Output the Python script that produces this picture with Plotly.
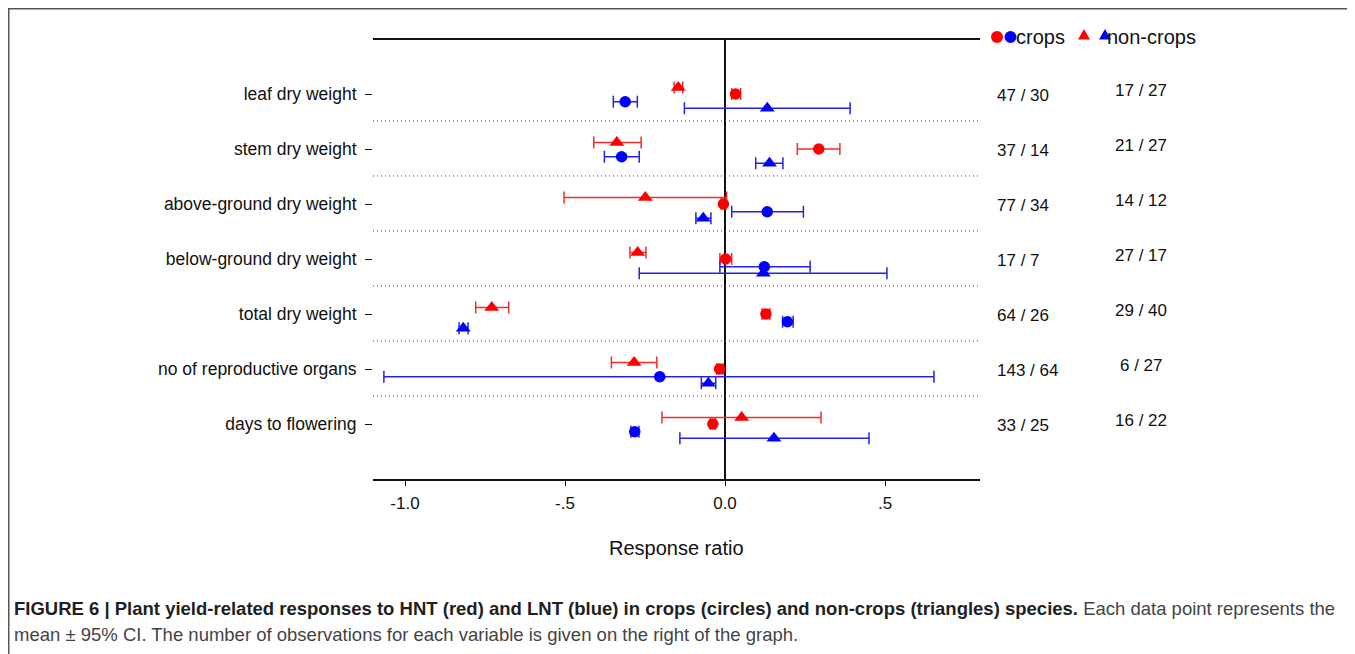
import plotly.graph_objects as go

# ---------------- data ----------------
categories = ["leaf dry weight", "stem dry weight", "above-ground dry weight",
              "below-ground dry weight", "total dry weight",
              "no of reproductive organs", "days to flowering"]

# HNT (red), crops (circles)
hnt_crop_mean = [0.033, 0.293, -0.005, 0.002, 0.128, -0.017, -0.038]
hnt_crop_lo   = [0.021, 0.226, -0.012, -0.016, 0.116, -0.026, -0.046]
hnt_crop_hi   = [0.049, 0.359, 0.003, 0.021, 0.140, -0.006, -0.030]

# HNT (red), non-crops (triangles)
hnt_non_mean = [-0.146, -0.338, -0.249, -0.273, -0.729, -0.284, 0.052]
hnt_non_lo   = [-0.159, -0.410, -0.503, -0.297, -0.779, -0.355, -0.197]
hnt_non_hi   = [-0.132, -0.262, 0.005, -0.247, -0.676, -0.213, 0.300]

# LNT (blue), crops (circles)
lnt_crop_mean = [-0.312, -0.323, 0.132, 0.123, 0.195, -0.204, -0.282]
lnt_crop_lo   = [-0.349, -0.377, 0.021, -0.016, 0.180, -1.066, -0.294]
lnt_crop_hi   = [-0.274, -0.268, 0.245, 0.266, 0.213, 0.653, -0.269]

# LNT (blue), non-crops (triangles)
lnt_non_mean = [0.132, 0.139, -0.068, 0.120, -0.818, -0.052, 0.153]
lnt_non_lo   = [-0.127, 0.096, -0.091, -0.268, -0.831, -0.074, -0.141]
lnt_non_hi   = [0.391, 0.181, -0.044, 0.506, -0.803, -0.029, 0.450]

# number of observations (crops, non-crops)
n_crops = ["47 / 30", "37 / 14", "77 / 34", "17 / 7", "64 / 26", "143 / 64", "33 / 25"]
n_noncrops = ["17 / 27", "21 / 27", "14 / 12", "27 / 17", "29 / 40", "6 / 27", "16 / 22"]

x_tickvals = [-1.0, -0.5, 0.0, 0.5]
x_ticktext = ["-1.0", "-.5", "0.0", ".5"]

# ---------------- layout geometry (page pixels) ----------------
PAGE_W, PAGE_H = 1355, 654
OFF = 8                      # browser body margin
W, H = PAGE_W - OFF, PAGE_H - OFF
L, R, T, B = 373, 980, 40, 479   # plot area in page pixels
FONT = "Liberation Sans, Arial, Helvetica, sans-serif"
RED, RED_E = "#ff0000", "rgb(240,45,45)"
BLUE, BLUE_E = "#0000ff", "rgb(35,35,235)"

def px_x(px):
    return (px - L) / (R - L)

def px_y(py):
    return (B - py) / (B - T)

ypos = list(range(len(categories)))
series = [
    (hnt_non_mean, hnt_non_lo, hnt_non_hi, RED, RED_E, "triangle-up", 13, -0.12),
    (hnt_crop_mean, hnt_crop_lo, hnt_crop_hi, RED, RED_E, "circle", 11.5, 0.0),
    (lnt_crop_mean, lnt_crop_lo, lnt_crop_hi, BLUE, BLUE_E, "circle", 11.5, 0.14),
    (lnt_non_mean, lnt_non_lo, lnt_non_hi, BLUE, BLUE_E, "triangle-up", 13, 0.26),
]

fig = go.Figure()
for mean, lo, hi, col, ecol, sym, size, off in series:
    fig.add_trace(go.Scatter(
        x=mean, y=[p + off for p in ypos], mode="markers",
        marker=dict(symbol=sym, size=size, color=col, line=dict(width=0)),
        error_x=dict(type="data", symmetric=False,
                     array=[h - m for h, m in zip(hi, mean)],
                     arrayminus=[m - l for m, l in zip(mean, lo)],
                     color=ecol, thickness=1.5, width=6),
        showlegend=False, hoverinfo="skip"))

shapes = []
# dotted separators
for i in range(len(categories) - 1):
    shapes.append(dict(type="line", xref="paper", yref="y", x0=0, x1=1,
                       y0=i + 0.49, y1=i + 0.49,
                       line=dict(color="#444", width=1, dash="1px,3px")))
# image frame (top and left)
shapes.append(dict(type="line", xref="paper", yref="paper",
                   x0=px_x(OFF), x1=px_x(PAGE_W + 5), y0=px_y(OFF + 0.75), y1=px_y(OFF + 0.75),
                   line=dict(color="#555", width=1.5)))
shapes.append(dict(type="line", xref="paper", yref="paper",
                   x0=px_x(OFF + 0.75), x1=px_x(OFF + 0.75), y0=px_y(OFF), y1=px_y(PAGE_H + 5),
                   line=dict(color="#555", width=1.5)))

# legend keys: circles and triangles (pixel-sized shapes)
for cx, col in [(997, RED), (1010.5, BLUE)]:
    shapes.append(dict(type="circle", xref="paper", yref="paper",
                       xsizemode="pixel", ysizemode="pixel",
                       xanchor=px_x(cx), yanchor=px_y(37),
                       x0=-6, x1=6, y0=-6, y1=6,
                       fillcolor=col, line=dict(width=0)))
for cx, col in [(1084, RED), (1105, BLUE)]:
    shapes.append(dict(type="path", xref="paper", yref="paper",
                       xsizemode="pixel", ysizemode="pixel",
                       xanchor=px_x(cx), yanchor=px_y(35),
                       path="M -6,-4.5 L 6,-4.5 L 0,6 Z",
                       fillcolor=col, line=dict(width=0)))

annotations = []
for i, (a, b) in enumerate(zip(n_crops, n_noncrops)):
    annotations.append(dict(x=px_x(995), xref="paper", y=i + 0.03, yref="y",
                            text=a, showarrow=False, xanchor="left", yanchor="middle",
                            font=dict(family=FONT, size=17, color="#111")))
    annotations.append(dict(x=px_x(1141), xref="paper", y=i - 0.06, yref="y",
                            text=b, showarrow=False, xanchor="center", yanchor="middle",
                            font=dict(family=FONT, size=17, color="#111")))

# legend labels
annotations.append(dict(x=px_x(1014), xref="paper", y=px_y(37), yref="paper",
                        text="crops", showarrow=False, xanchor="left", yanchor="middle",
                        font=dict(family=FONT, size=20, color="#111")))
annotations.append(dict(x=px_x(1105), xref="paper", y=px_y(37), yref="paper",
                        text="non-crops", showarrow=False, xanchor="left", yanchor="middle",
                        font=dict(family=FONT, size=20, color="#111")))

# axis title
annotations.append(dict(x=0.5, xref="paper", y=px_y(548), yref="paper",
                        text="Response ratio", showarrow=False, xanchor="center",
                        yanchor="middle", font=dict(family=FONT, size=20, color="#111")))

# caption
annotations.append(dict(
    x=px_x(12), xref="paper", y=px_y(608), yref="paper", xanchor="left", yanchor="middle",
    showarrow=False, align="left",
    text=("<b>FIGURE 6 | Plant yield-related responses to HNT (red) and LNT (blue) in crops "
          "(circles) and non-crops (triangles) species.</b>"
          "<span style='color:#444'> Each data point represents the</span>"),
    font=dict(family=FONT, size=18.5, color="#231f20")))
annotations.append(dict(
    x=px_x(12), xref="paper", y=px_y(634), yref="paper", xanchor="left", yanchor="middle",
    showarrow=False, align="left",
    text=("mean \u00b1 95% CI. The number of observations for each variable is given "
          "on the right of the graph."),
    font=dict(family=FONT, size=18.5, color="#444")))

fig.update_layout(
    width=W, height=H,
    margin=dict(l=L - OFF, r=PAGE_W - R, t=T - OFF, b=PAGE_H - B, pad=0),
    paper_bgcolor="white", plot_bgcolor="white",
    font=dict(family=FONT, size=17, color="#111"),
    shapes=shapes, annotations=annotations,
    xaxis=dict(range=[-(725 - L) / 320, (R - 725) / 320], tickvals=x_tickvals,
               ticktext=x_ticktext, showgrid=False, zeroline=True,
               zerolinecolor="#111", zerolinewidth=1.5,
               showline=True, mirror=True, linecolor="#111", linewidth=1.5,
               ticks="outside", ticklen=5, tickcolor="#111", tickwidth=1,
               ticklabelstandoff=3, tickfont=dict(family=FONT, size=17, color="#111")),
    yaxis=dict(range=[len(categories) + 0.0, -54 / 55], tickvals=ypos,
               ticktext=categories, showgrid=False, zeroline=False, showline=False,
               ticks="outside", ticklen=7, tickcolor="#111", tickwidth=1.2,
               ticklabelstandoff=5, tickfont=dict(family=FONT, size=17.5, color="#111")),
)

fig.write_html("out.html")
